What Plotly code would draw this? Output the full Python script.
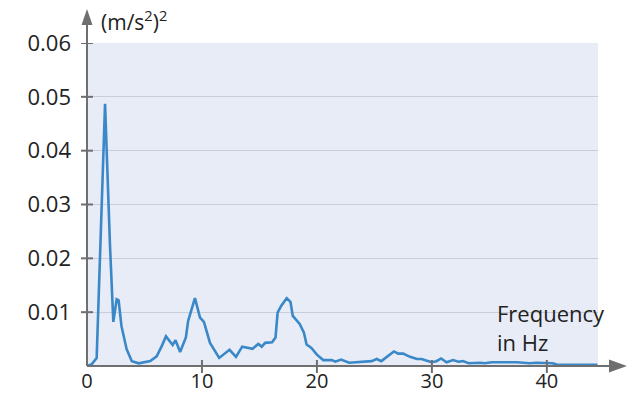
import plotly.graph_objects as go

freq = [0, 0.4, 0.84, 1.57, 2.0, 2.29, 2.58, 2.75, 3.0, 3.45, 3.9, 4.5, 5.5, 6.06, 6.5,
        6.87, 7.45, 7.7, 8.1, 8.6, 8.8, 9.39, 9.83, 10.17, 10.7, 11.5, 12.4, 12.96, 13.5, 14.4,
        14.9, 15.2, 15.5, 16.1, 16.4, 16.58, 16.9, 17.37, 17.7, 17.9, 18.5, 18.87, 19.1, 19.5, 20.0,
        20.55, 21.3, 21.6, 22.1, 22.8, 24.76, 25.2, 25.6, 26.2, 26.7, 27.07, 27.5, 28.1, 28.7, 29.1,
        29.97, 30.4, 30.8, 31.28, 31.85, 32.3, 32.7, 33.2, 34.2, 34.6, 35.2, 37.4, 38.5, 39.1, 40.5,
        41.0, 44.4]
psd = [0, 0.0003, 0.0015, 0.0487, 0.0224, 0.0082, 0.0124, 0.0122, 0.0074, 0.0031,
       0.0009, 0.0005, 0.0009, 0.0018, 0.0037, 0.0055, 0.0039, 0.0048, 0.0026, 0.0053,
       0.0084, 0.0126, 0.009, 0.0082, 0.0043, 0.0015, 0.003, 0.0017, 0.0036, 0.0032,
       0.0041, 0.0036, 0.0043, 0.0044, 0.0053, 0.0099, 0.0112, 0.0126, 0.0119, 0.0093,
       0.0078, 0.0062, 0.004, 0.0034, 0.0021, 0.0011, 0.0011, 0.0008, 0.0012, 0.0006,
       0.0009, 0.0013, 0.0009, 0.0018, 0.0027, 0.0023, 0.0023, 0.0017, 0.0013, 0.0013,
       0.0007, 0.0009, 0.0014, 0.0007, 0.0011, 0.0008, 0.0009, 0.0005, 0.0006, 0.0005,
       0.0007, 0.0007, 0.0005, 0.0006, 0.0005, 0.0002, 0.0002]

x_ticks = [0, 10, 20, 30, 40]
y_ticks = [0.01, 0.02, 0.03, 0.04, 0.05, 0.06]
y_tick_text = ["0.01", "0.02", "0.03", "0.04", "0.05", "0.06"]
y_unit = "(m/s<sup>2</sup>)<sup>2</sup>"
x_title = "Frequency<br>in Hz"

W, H = 633, 394
L, R, T, B = 86.5, 35, 43, 27.5
PW = W - L - R
PH = H - T - B
FONT = "Open Sans, Noto Sans, sans-serif"
AX = "#6f6f6f"

fig = go.Figure()
fig.add_trace(go.Scatter(x=freq, y=psd, mode="lines",
                         line=dict(color="#3a88c8", width=2.6), hoverinfo="skip"))

def px(dx):
    return dx / PW

def py(dy):
    return dy / PH

shapes = []
# axis lines
shapes.append(dict(type="line", xref="paper", yref="paper", x0=0, x1=px(612 - L), y0=0, y1=0,
                   line=dict(color=AX, width=2)))
shapes.append(dict(type="line", xref="paper", yref="paper", x0=0, x1=0, y0=0, y1=py(H - B - 24),
                   line=dict(color=AX, width=2)))
# arrowheads
xa0, xa1, hw = px(609 - L), px(627 - L), py(6.5)
shapes.append(dict(type="path", xref="paper", yref="paper",
                   path=f"M {xa0} {hw} L {xa1} 0 L {xa0} {-hw} Z",
                   fillcolor=AX, line=dict(width=0)))
ya0, ya1, ww = py(H - B - 25), py(H - B - 9), px(5.5)
shapes.append(dict(type="path", xref="paper", yref="paper",
                   path=f"M {-ww} {ya0} L 0 {ya1} L {ww} {ya0} Z",
                   fillcolor=AX, line=dict(width=0)))
# crossing ticks
for v in x_ticks[1:]:
    shapes.append(dict(type="line", xref="x", yref="paper", x0=v, x1=v, y0=py(-7), y1=py(6),
                       line=dict(color=AX, width=2)))
for v in y_ticks:
    shapes.append(dict(type="line", xref="paper", yref="y", x0=px(-6), x1=px(6), y0=v, y1=v,
                       line=dict(color=AX, width=2)))

fig.update_layout(
    width=W, height=H,
    margin=dict(l=L, r=R, t=T, b=B, autoexpand=False),
    paper_bgcolor="white",
    plot_bgcolor="#e8ecf7",
    showlegend=False,
    font=dict(family=FONT, size=22, color="#222222"),
    shapes=shapes,
    xaxis=dict(range=[0, 44.45], tickvals=x_ticks, ticktext=[str(v) for v in x_ticks],
               showgrid=False, zeroline=False, showline=False, ticks="",
               ticklabelstandoff=1, automargin=False,
               tickfont=dict(size=20), fixedrange=True),
    yaxis=dict(range=[0, 0.06], tickvals=y_ticks, ticktext=y_tick_text,
               showgrid=True, gridcolor="#c9cdd9", gridwidth=1, zeroline=False,
               showline=False, ticks="", ticklabelstandoff=15, automargin=False,
               tickfont=dict(size=22), fixedrange=True),
    annotations=[
        dict(text=y_unit, xref="paper", yref="paper", x=px(99 - L), y=py(H - B - 20),
             xanchor="left", yanchor="middle", showarrow=False, font=dict(size=21)),
        dict(text=x_title, xref="paper", yref="paper", x=px(495 - L), y=py(H - B - 359),
             xanchor="left", yanchor="bottom", showarrow=False, align="left",
             font=dict(size=22)),
    ],
)

fig.write_html("out.html", config={"displayModeBar": False},
               post_script="document.body.style.margin='0';document.body.style.overflow='hidden';")
